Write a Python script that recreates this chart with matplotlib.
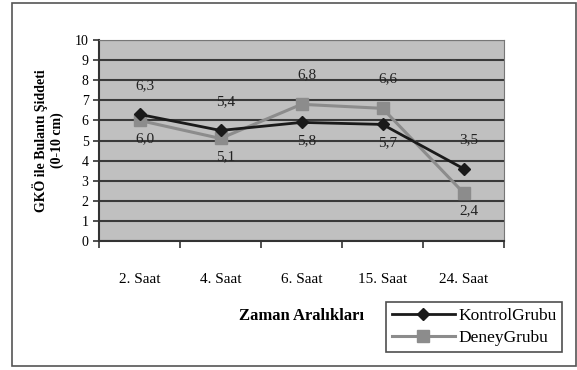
import matplotlib
matplotlib.use("Agg")
import matplotlib.pyplot as plt
from matplotlib.patches import Rectangle

plt.rcParams['font.family'] = ['Liberation Serif', 'DejaVu Serif']

categories = ["2. Saat", "4. Saat", "6. Saat", "15. Saat", "24. Saat"]
kontrol = [6.3, 5.5, 5.9, 5.8, 3.6]
deney = [6.0, 5.1, 6.8, 6.6, 2.4]
kontrol_labels = ["6,3", "5,4", "5,8", "5,7", "3,5"]
deney_labels = ["6,0", "5,1", "6,8", "6,6", "2,4"]
kontrol_pos = ["up", "up", "down", "down", "up"]
deney_pos = ["down", "down", "up", "up", "down"]

fig = plt.figure(figsize=(5.77, 3.7), dpi=100)
fig.patches.append(Rectangle((12 / 577, 1 - 366 / 370), 564 / 577, 363 / 370,
                             transform=fig.transFigure, fill=False,
                             edgecolor='#555555', lw=1.2))

ax = fig.add_axes([99 / 577, 1 - 241 / 370, 405 / 577, 201 / 370])
ax.set_facecolor('#c0c0c0')
x = list(range(len(categories)))

ax.plot(x, deney, color='#8c8c8c', lw=2.2, marker='s', ms=9, label='DeneyGrubu', zorder=3)
ax.plot(x, kontrol, color='#1a1a1a', lw=2, marker='D', ms=6, label='KontrolGrubu', zorder=4)

for i in x:
    dy = 13 if kontrol_pos[i] == "up" else -13
    ax.annotate(kontrol_labels[i], (i, kontrol[i]), xytext=(4, dy + (8 if dy > 0 else 0)),
                textcoords='offset points', ha='center', va='center', fontsize=11, color='#222222')
    dy = 13 if deney_pos[i] == "up" else -13
    ax.annotate(deney_labels[i], (i, deney[i]), xytext=(4, dy + (8 if dy > 0 else 0)),
                textcoords='offset points', ha='center', va='center', fontsize=11, color='#222222')

ax.set_xlim(-0.5, 4.5)
ax.set_ylim(0, 10)
ax.set_yticks(range(0, 11))
ax.yaxis.grid(True, color='#3a3a3a', lw=1.5)
ax.set_axisbelow(True)
ax.set_xticks([i - 0.5 for i in range(6)])
ax.set_xticklabels([])
ax.set_xticks(x, minor=True)
ax.set_xticklabels(categories, minor=True, fontsize=11)
ax.tick_params(axis='x', which='minor', length=0, pad=23)
ax.tick_params(axis='x', which='major', length=5, color='#333333', width=1.2)
ax.tick_params(axis='y', length=4, labelsize=10, color='#333333', width=1.2)
for s in ['top', 'right']:
    ax.spines[s].set_color('#777777')
for s in ['left', 'bottom']:
    ax.spines[s].set_color('#333333')
    ax.spines[s].set_linewidth(1.5)

ax.set_xlabel("Zaman Aralıkları", fontsize=12, fontweight='bold', labelpad=16)
ax.set_ylabel("GKÖ ile Bulantı Şiddeti\n(0-10 cm)", fontsize=10, fontweight='bold', labelpad=8)

handles, labels = ax.get_legend_handles_labels()
leg = fig.legend(handles[::-1], labels[::-1], loc='lower right',
                 bbox_to_anchor=(571 / 577, 1 - 361 / 370), fontsize=12.5,
                 frameon=True, fancybox=False, edgecolor='#222222',
                 handlelength=3.6, borderpad=0.35, labelspacing=0.35, handletextpad=0.2)
leg.get_frame().set_linewidth(1.2)

fig.savefig("out.png", dpi=100)
